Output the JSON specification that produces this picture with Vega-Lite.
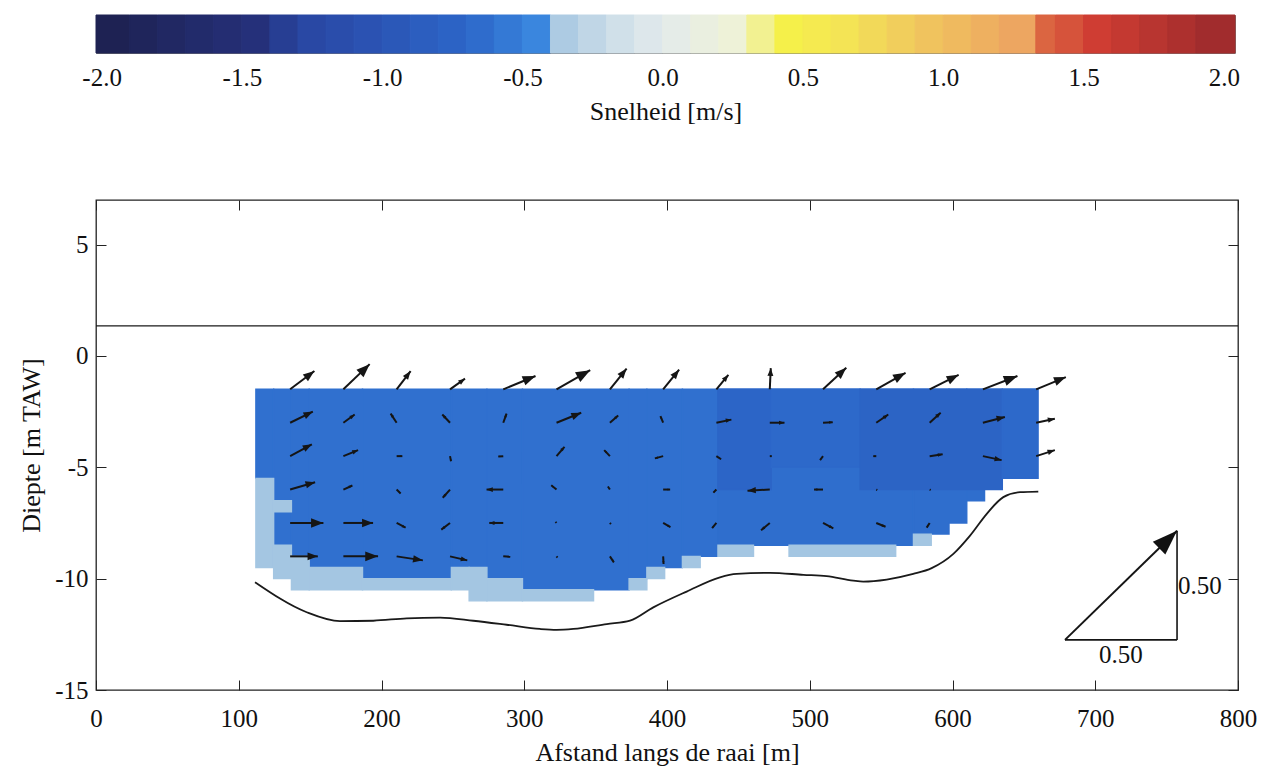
{
  "$schema": "https://vega.github.io/schema/vega-lite/v6.json",
  "background": "white",
  "padding": {"left": 18, "top": 14, "right": 20, "bottom": 8},
  "spacing": 73,
  "config": {
    "font": "Liberation Serif",
    "view": {"stroke": null},
    "axis": {
      "labelFont": "Liberation Serif", "titleFont": "Liberation Serif",
      "labelFontSize": 25, "titleFontSize": 26, "titleFontWeight": "normal",
      "labelColor": "#111", "titleColor": "#111", "tickColor": "#222",
      "grid": false, "labelFlush": false, "labelOverlap": false
    }
  },
  "datasets": {
    "cbar": [
      {"a": -2.02, "b": -1.9, "c": -1.96}, {"a": -1.9, "b": -1.8, "c": -1.85}, {"a": -1.8, "b": -1.7, "c": -1.75},
      {"a": -1.7, "b": -1.6, "c": -1.65}, {"a": -1.6, "b": -1.5, "c": -1.55}, {"a": -1.5, "b": -1.4, "c": -1.45},
      {"a": -1.4, "b": -1.3, "c": -1.35}, {"a": -1.3, "b": -1.2, "c": -1.25}, {"a": -1.2, "b": -1.1, "c": -1.15},
      {"a": -1.1, "b": -1.0, "c": -1.05}, {"a": -1.0, "b": -0.9, "c": -0.95}, {"a": -0.9, "b": -0.8, "c": -0.85},
      {"a": -0.8, "b": -0.7, "c": -0.75}, {"a": -0.7, "b": -0.6, "c": -0.65}, {"a": -0.6, "b": -0.5, "c": -0.55},
      {"a": -0.5, "b": -0.4, "c": -0.45}, {"a": -0.4, "b": -0.3, "c": -0.35}, {"a": -0.3, "b": -0.2, "c": -0.25},
      {"a": -0.2, "b": -0.1, "c": -0.15}, {"a": -0.1, "b": 0.0, "c": -0.05}, {"a": 0.0, "b": 0.1, "c": 0.05},
      {"a": 0.1, "b": 0.2, "c": 0.15}, {"a": 0.2, "b": 0.3, "c": 0.25}, {"a": 0.3, "b": 0.4, "c": 0.35},
      {"a": 0.4, "b": 0.5, "c": 0.45}, {"a": 0.5, "b": 0.6, "c": 0.55}, {"a": 0.6, "b": 0.7, "c": 0.65},
      {"a": 0.7, "b": 0.8, "c": 0.75}, {"a": 0.8, "b": 0.9, "c": 0.85}, {"a": 0.9, "b": 1.0, "c": 0.95},
      {"a": 1.0, "b": 1.1, "c": 1.05}, {"a": 1.1, "b": 1.2, "c": 1.15}, {"a": 1.2, "b": 1.33, "c": 1.26},
      {"a": 1.33, "b": 1.4, "c": 1.37}, {"a": 1.4, "b": 1.5, "c": 1.45}, {"a": 1.5, "b": 1.6, "c": 1.55},
      {"a": 1.6, "b": 1.7, "c": 1.65}, {"a": 1.7, "b": 1.8, "c": 1.75}, {"a": 1.8, "b": 1.9, "c": 1.85},
      {"a": 1.9, "b": 2.04, "c": 1.96}
    ],
    "field": [
      {"x": 112, "xe": 124.45, "y": -1.5, "ye": -5.5, "v": -0.62},
      {"x": 124.45, "xe": 136.9, "y": -1.5, "ye": -8.5, "v": -0.62},
      {"x": 136.9, "xe": 149.35, "y": -1.5, "ye": -9.0, "v": -0.62},
      {"x": 149.35, "xe": 186.7, "y": -1.5, "ye": -9.5, "v": -0.62},
      {"x": 186.7, "xe": 248.95, "y": -1.5, "ye": -10.0, "v": -0.62},
      {"x": 248.95, "xe": 273.85, "y": -1.5, "ye": -9.5, "v": -0.62},
      {"x": 273.85, "xe": 298.75, "y": -1.5, "ye": -10.0, "v": -0.62},
      {"x": 298.75, "xe": 373.45, "y": -1.5, "ye": -10.5, "v": -0.62},
      {"x": 373.45, "xe": 385.9, "y": -1.5, "ye": -10.0, "v": -0.62},
      {"x": 385.9, "xe": 410.8, "y": -1.5, "ye": -9.5, "v": -0.62},
      {"x": 410.8, "xe": 435.7, "y": -1.5, "ye": -9.0, "v": -0.62},
      {"x": 435.7, "xe": 572.65, "y": -1.5, "ye": -8.5, "v": -0.64},
      {"x": 572.65, "xe": 597.55, "y": -1.5, "ye": -8.0, "v": -0.64},
      {"x": 597.55, "xe": 610, "y": -1.5, "ye": -7.5, "v": -0.64},
      {"x": 610, "xe": 622.45, "y": -1.5, "ye": -6.5, "v": -0.64},
      {"x": 622.45, "xe": 659.8, "y": -1.5, "ye": -5.5, "v": -0.63},
      {"x": 435.7, "xe": 473.05, "y": -1.5, "ye": -6.0, "v": -0.72},
      {"x": 473.05, "xe": 535.3, "y": -1.5, "ye": -5.0, "v": -0.68},
      {"x": 535.3, "xe": 634.9, "y": -1.5, "ye": -6.0, "v": -0.74},
      {"x": 634.9, "xe": 659.8, "y": -1.5, "ye": -5.5, "v": -0.68},
      {"x": 112, "xe": 124.45, "y": -5.5, "ye": -9.5, "v": -0.399},
      {"x": 124.45, "xe": 136.9, "y": -6.5, "ye": -7.0, "v": -0.399},
      {"x": 124.45, "xe": 136.9, "y": -8.5, "ye": -10.0, "v": -0.399},
      {"x": 136.9, "xe": 149.35, "y": -9.0, "ye": -10.5, "v": -0.399},
      {"x": 149.35, "xe": 186.7, "y": -9.5, "ye": -10.5, "v": -0.399},
      {"x": 186.7, "xe": 248.95, "y": -10.0, "ye": -10.5, "v": -0.399},
      {"x": 248.95, "xe": 261.4, "y": -9.5, "ye": -10.5, "v": -0.399},
      {"x": 261.4, "xe": 273.85, "y": -9.5, "ye": -11.0, "v": -0.399},
      {"x": 273.85, "xe": 298.75, "y": -10.0, "ye": -11.0, "v": -0.399},
      {"x": 298.75, "xe": 348.55, "y": -10.5, "ye": -11.0, "v": -0.399},
      {"x": 373.45, "xe": 385.9, "y": -10.0, "ye": -10.5, "v": -0.399},
      {"x": 385.9, "xe": 398.35, "y": -9.5, "ye": -10.0, "v": -0.399},
      {"x": 410.8, "xe": 423.25, "y": -9.0, "ye": -9.5, "v": -0.399},
      {"x": 435.7, "xe": 460.6, "y": -8.5, "ye": -9.0, "v": -0.399},
      {"x": 485.5, "xe": 560.2, "y": -8.5, "ye": -9.0, "v": -0.399},
      {"x": 572.65, "xe": 585.1, "y": -8.0, "ye": -8.5, "v": -0.399}
    ],
    "surface": [{"x": 0, "xe": 800, "y": 1.35, "ye": 1.35}],
    "bottom": [
      {"x": 111.4, "y": -10.16}, {"x": 147.6, "y": -11.51}, {"x": 170.9, "y": -11.91}, {"x": 194.3, "y": -11.89},
      {"x": 217.7, "y": -11.78}, {"x": 241.0, "y": -11.75}, {"x": 264.3, "y": -11.89}, {"x": 287.7, "y": -12.07},
      {"x": 311.0, "y": -12.26}, {"x": 322.7, "y": -12.3}, {"x": 334.4, "y": -12.26}, {"x": 357.8, "y": -12.04},
      {"x": 374.1, "y": -11.89}, {"x": 390.4, "y": -11.29}, {"x": 413.8, "y": -10.58}, {"x": 437.1, "y": -9.94},
      {"x": 448.8, "y": -9.79}, {"x": 472.2, "y": -9.74}, {"x": 495.5, "y": -9.83}, {"x": 511.8, "y": -9.89},
      {"x": 530.5, "y": -10.09}, {"x": 537.5, "y": -10.13}, {"x": 553.9, "y": -10.04}, {"x": 572.5, "y": -9.79},
      {"x": 585.4, "y": -9.53}, {"x": 600.6, "y": -8.89}, {"x": 612.3, "y": -8.07}, {"x": 624.0, "y": -7.09},
      {"x": 635.6, "y": -6.34}, {"x": 647.3, "y": -6.12}, {"x": 660.1, "y": -6.09}
    ],
    "arrows": [
      {"x": 136, "y": -1.5, "xe": 153.0, "ye": -0.68, "ang": 53, "spd": 0.136},
      {"x": 173.3, "y": -1.5, "xe": 191.7, "ye": -0.37, "ang": 46, "spd": 0.162},
      {"x": 210.6, "y": -1.5, "xe": 220.4, "ye": -0.68, "ang": 37, "spd": 0.103},
      {"x": 248, "y": -1.5, "xe": 258.5, "ye": -1.02, "ang": 54, "spd": 0.082},
      {"x": 285.3, "y": -1.5, "xe": 307.9, "ye": -0.9, "ang": 68, "spd": 0.156},
      {"x": 322.6, "y": -1.5, "xe": 346.2, "ye": -0.64, "ang": 61, "spd": 0.173},
      {"x": 360, "y": -1.5, "xe": 371.7, "ye": -0.57, "ang": 39, "spd": 0.119},
      {"x": 397.3, "y": -1.5, "xe": 408.5, "ye": -0.62, "ang": 39, "spd": 0.113},
      {"x": 434.6, "y": -1.5, "xe": 443.0, "ye": -0.85, "ang": 40, "spd": 0.084},
      {"x": 472, "y": -1.5, "xe": 472.7, "ye": -0.55, "ang": 3, "spd": 0.094},
      {"x": 509.3, "y": -1.5, "xe": 525.6, "ye": -0.53, "ang": 47, "spd": 0.141},
      {"x": 546.6, "y": -1.5, "xe": 567.1, "ye": -0.76, "ang": 61, "spd": 0.15},
      {"x": 584, "y": -1.5, "xe": 604.3, "ye": -0.85, "ang": 63, "spd": 0.145},
      {"x": 621.3, "y": -1.5, "xe": 645.5, "ye": -0.9, "ang": 69, "spd": 0.165},
      {"x": 658.6, "y": -1.5, "xe": 679.4, "ye": -0.95, "ang": 68, "spd": 0.143},
      {"x": 136, "y": -3, "xe": 151.9, "ye": -2.5, "ang": 64, "spd": 0.113},
      {"x": 173.3, "y": -3, "xe": 181.2, "ye": -2.63, "ang": 54, "spd": 0.063},
      {"x": 210.6, "y": -3, "xe": 206.4, "ye": -2.59, "ang": -34, "spd": 0.048},
      {"x": 248, "y": -3, "xe": 242.6, "ye": -2.63, "ang": -43, "spd": 0.051},
      {"x": 285.3, "y": -3, "xe": 287.6, "ye": -2.59, "ang": 20, "spd": 0.043},
      {"x": 322.6, "y": -3, "xe": 339.9, "ye": -2.55, "ang": 68, "spd": 0.119},
      {"x": 360, "y": -3, "xe": 365.8, "ye": -2.67, "ang": 49, "spd": 0.049},
      {"x": 397.3, "y": -3, "xe": 395.4, "ye": -2.7, "ang": -22, "spd": 0.032},
      {"x": 434.6, "y": -3, "xe": 445.1, "ye": -2.86, "ang": 79, "spd": 0.068},
      {"x": 472, "y": -3, "xe": 482.3, "ye": -3, "ang": 90, "spd": 0.066},
      {"x": 509.3, "y": -3, "xe": 516.1, "ye": -2.98, "ang": 87, "spd": 0.043},
      {"x": 546.6, "y": -3, "xe": 555.0, "ye": -2.63, "ang": 55, "spd": 0.065},
      {"x": 584, "y": -3, "xe": 591.7, "ye": -2.55, "ang": 48, "spd": 0.066},
      {"x": 621.3, "y": -3, "xe": 636.7, "ye": -2.74, "ang": 76, "spd": 0.101},
      {"x": 658.6, "y": -3, "xe": 671.7, "ye": -2.82, "ang": 78, "spd": 0.085},
      {"x": 136, "y": -4.5, "xe": 151.2, "ye": -3.97, "ang": 62, "spd": 0.11},
      {"x": 173.3, "y": -4.5, "xe": 183.6, "ye": -4.23, "ang": 68, "spd": 0.071},
      {"x": 210.6, "y": -4.5, "xe": 214.6, "ye": -4.5, "ang": 90, "spd": 0.025},
      {"x": 248, "y": -4.5, "xe": 248.7, "ye": -4.73, "ang": 169, "spd": 0.023},
      {"x": 285.3, "y": -4.5, "xe": 281.8, "ye": -4.52, "ang": -96, "spd": 0.022},
      {"x": 322.6, "y": -4.5, "xe": 328.2, "ye": -4.08, "ang": 41, "spd": 0.055},
      {"x": 360, "y": -4.5, "xe": 356, "ye": -4.23, "ang": -44, "spd": 0.037},
      {"x": 397.3, "y": -4.5, "xe": 391.5, "ye": -4.6, "ang": -106, "spd": 0.038},
      {"x": 434.6, "y": -4.5, "xe": 437.9, "ye": -4.64, "ang": 123, "spd": 0.025},
      {"x": 472, "y": -4.5, "xe": 473.4, "ye": -4.5, "ang": 90, "spd": 0.009},
      {"x": 509.3, "y": -4.5, "xe": 507.2, "ye": -4.68, "ang": -143, "spd": 0.022},
      {"x": 546.6, "y": -4.5, "xe": 544.5, "ye": -4.5, "ang": -90, "spd": 0.013},
      {"x": 584, "y": -4.5, "xe": 593.1, "ye": -4.42, "ang": 83, "spd": 0.058},
      {"x": 621.3, "y": -4.5, "xe": 634.4, "ye": -4.68, "ang": 102, "spd": 0.085},
      {"x": 658.6, "y": -4.5, "xe": 671.7, "ye": -4.23, "ang": 72, "spd": 0.088},
      {"x": 136, "y": -6, "xe": 153.5, "ye": -5.67, "ang": 74, "spd": 0.116},
      {"x": 173.3, "y": -6, "xe": 179.6, "ye": -5.82, "ang": 66, "spd": 0.044},
      {"x": 210.6, "y": -6, "xe": 213.4, "ye": -6.18, "ang": 135, "spd": 0.025},
      {"x": 248, "y": -6, "xe": 242.9, "ye": -6.37, "ang": -139, "spd": 0.049},
      {"x": 285.3, "y": -6, "xe": 273.6, "ye": -6, "ang": -90, "spd": 0.075},
      {"x": 322.6, "y": -6, "xe": 318.9, "ye": -5.81, "ang": -51, "spd": 0.03},
      {"x": 360, "y": -6, "xe": 358.6, "ye": -5.86, "ang": -34, "spd": 0.016},
      {"x": 397.3, "y": -6, "xe": 402.2, "ye": -6, "ang": 90, "spd": 0.031},
      {"x": 434.6, "y": -6, "xe": 432.5, "ye": -6.14, "ang": -135, "spd": 0.019},
      {"x": 472, "y": -6, "xe": 456.4, "ye": -6.05, "ang": -93, "spd": 0.1},
      {"x": 509.3, "y": -6, "xe": 503, "ye": -6, "ang": -90, "spd": 0.04},
      {"x": 546.6, "y": -6, "xe": 547.3, "ye": -6.02, "ang": 117, "spd": 0.005},
      {"x": 584, "y": -6, "xe": 584.7, "ye": -6.02, "ang": 117, "spd": 0.005},
      {"x": 136, "y": -7.5, "xe": 159.3, "ye": -7.5, "ang": 90, "spd": 0.149},
      {"x": 173.3, "y": -7.5, "xe": 194.1, "ye": -7.5, "ang": 90, "spd": 0.133},
      {"x": 210.6, "y": -7.5, "xe": 216.9, "ye": -7.71, "ang": 118, "spd": 0.045},
      {"x": 248, "y": -7.5, "xe": 241.9, "ye": -7.8, "ang": -128, "spd": 0.049},
      {"x": 285.3, "y": -7.5, "xe": 275.5, "ye": -7.5, "ang": -90, "spd": 0.063},
      {"x": 322.6, "y": -7.5, "xe": 321.9, "ye": -7.45, "ang": -45, "spd": 0.006},
      {"x": 360, "y": -7.5, "xe": 360.7, "ye": -7.55, "ang": 135, "spd": 0.006},
      {"x": 397.3, "y": -7.5, "xe": 402.4, "ye": -7.69, "ang": 121, "spd": 0.038},
      {"x": 434.6, "y": -7.5, "xe": 431.6, "ye": -7.73, "ang": -139, "spd": 0.029},
      {"x": 472, "y": -7.5, "xe": 465.9, "ye": -7.83, "ang": -130, "spd": 0.051},
      {"x": 509.3, "y": -7.5, "xe": 516.5, "ye": -7.74, "ang": 117, "spd": 0.052},
      {"x": 546.6, "y": -7.5, "xe": 553.1, "ye": -7.67, "ang": 112, "spd": 0.045},
      {"x": 584, "y": -7.5, "xe": 581.9, "ye": -7.71, "ang": -147, "spd": 0.025},
      {"x": 136, "y": -9, "xe": 155.4, "ye": -9, "ang": 90, "spd": 0.124},
      {"x": 173.3, "y": -9, "xe": 197.6, "ye": -9, "ang": 90, "spd": 0.155},
      {"x": 210.6, "y": -9, "xe": 229, "ye": -9.18, "ang": 99, "spd": 0.119},
      {"x": 248, "y": -9, "xe": 260.1, "ye": -9.18, "ang": 103, "spd": 0.079},
      {"x": 285.3, "y": -9, "xe": 290.2, "ye": -9.02, "ang": 94, "spd": 0.031},
      {"x": 322.6, "y": -9, "xe": 323.3, "ye": -9.05, "ang": 135, "spd": 0.006},
      {"x": 360, "y": -9, "xe": 362.8, "ye": -9.27, "ang": 146, "spd": 0.032},
      {"x": 397.3, "y": -9, "xe": 397.6, "ye": -9.34, "ang": 176, "spd": 0.034}
    ],
    "legs": [
      {"x": 678.8, "y": -12.75, "xe": 757.3, "ye": -12.75},
      {"x": 757.3, "y": -12.75, "xe": 757.3, "ye": -7.85}
    ],
    "refarrow": [{"x": 678.8, "y": -12.75, "xe": 757.3, "ye": -7.85, "ang": 46}],
    "reflabelH": [{"x": 718, "y": -13.45, "t": "0.50"}],
    "reflabelV": [{"x": 757.3, "y": -10.35, "t": "0.50"}]
  },
  "vconcat": [
    {
      "width": 1139,
      "height": 38,
      "view": {"stroke": "#777", "strokeWidth": 1},
      "data": {"name": "cbar"},
      "mark": {"type": "rect", "strokeWidth": 1},
      "encoding": {
        "x": {
          "field": "a", "type": "quantitative",
          "scale": {"domain": [-2.02, 2.04], "nice": false, "zero": false},
          "axis": {
            "values": [-2, -1.5, -1, -0.5, 0, 0.5, 1, 1.5, 2],
            "labelExpr": "replace(format(datum.value, '.1f'), '−', '-')",
            "title": "Snelheid [m/s]", "domain": false, "ticks": false,
            "labelPadding": 12, "titlePadding": 8, "labelFontSize": 25, "titleFontSize": 26
          }
        },
        "x2": {"field": "b"},
        "fill": {
          "field": "c", "type": "quantitative", "legend": null,
          "scale": {
            "type": "linear", "nice": false, "zero": false, "clamp": true, "interpolate": "rgb",
            "domain": [-2.0, -1.45, -1.3, -1.0, -0.7, -0.45, -0.4, -0.399, -0.2, 0, 0.25, 0.45, 0.65, 0.9, 1.32, 1.33, 1.55, 2.0],
            "range": ["#1d2150", "#25307a", "#2845a0", "#2b55b5", "#2c66c8", "#3a86de", "#3f90e6", "#a4c6e2", "#c9dce8", "#e3ebec", "#eef2d8", "#f5f04a", "#f4e455", "#f0c85e", "#eca062", "#de6e44", "#cf3d33", "#9c2a2c"]
          }
        },
        "stroke": {
          "field": "c", "type": "quantitative", "legend": null,
          "scale": {
            "type": "linear", "nice": false, "zero": false, "clamp": true, "interpolate": "rgb",
            "domain": [-2.0, -1.45, -1.3, -1.0, -0.7, -0.45, -0.4, -0.399, -0.2, 0, 0.25, 0.45, 0.65, 0.9, 1.32, 1.33, 1.55, 2.0],
            "range": ["#1d2150", "#25307a", "#2845a0", "#2b55b5", "#2c66c8", "#3a86de", "#3f90e6", "#a4c6e2", "#c9dce8", "#e3ebec", "#eef2d8", "#f5f04a", "#f4e455", "#f0c85e", "#eca062", "#de6e44", "#cf3d33", "#9c2a2c"]
          }
        }
      }
    },
    {
      "width": 1142,
      "height": 490,
      "view": {"stroke": "#222", "strokeWidth": 1.3},
      "resolve": {"axis": {"x": "independent", "y": "independent"}},
      "layer": [
        {
          "data": {"name": "field"},
          "mark": {"type": "rect", "strokeWidth": 1.4},
          "encoding": {
            "x": {"field": "x", "type": "quantitative", "scale": {"domain": [0, 800], "nice": false, "zero": false},
              "axis": {"orient": "bottom", "values": [0, 100, 200, 300, 400, 500, 600, 700, 800], "tickSize": -10, "labelPadding": 26, "domain": false, "title": "Afstand langs de raai [m]", "titlePadding": 8}},
            "x2": {"field": "xe"},
            "y": {"field": "y", "type": "quantitative", "scale": {"domain": [-15, 7], "nice": false, "zero": false},
              "axis": {"orient": "left", "values": [-15, -10, -5, 0, 5], "tickSize": -10, "labelPadding": 18, "domain": false, "title": "Diepte [m TAW]", "titlePadding": 10, "labelExpr": "replace(datum.label, '−', '-')"}},
            "y2": {"field": "ye"},
            "fill": {
              "field": "v", "type": "quantitative", "legend": null,
              "scale": {
                "type": "linear", "nice": false, "zero": false, "clamp": true, "interpolate": "rgb",
                "domain": [-2.0, -1.45, -1.3, -1.0, -0.7, -0.45, -0.4, -0.399, -0.2, 0, 0.25, 0.45, 0.65, 0.9, 1.32, 1.33, 1.55, 2.0],
                "range": ["#1d2150", "#25307a", "#2845a0", "#2b55b5", "#2c66c8", "#3a86de", "#3f90e6", "#a4c6e2", "#c9dce8", "#e3ebec", "#eef2d8", "#f5f04a", "#f4e455", "#f0c85e", "#eca062", "#de6e44", "#cf3d33", "#9c2a2c"]
              }
            },
            "stroke": {
              "field": "v", "type": "quantitative", "legend": null,
              "scale": {
                "type": "linear", "nice": false, "zero": false, "clamp": true, "interpolate": "rgb",
                "domain": [-2.0, -1.45, -1.3, -1.0, -0.7, -0.45, -0.4, -0.399, -0.2, 0, 0.25, 0.45, 0.65, 0.9, 1.32, 1.33, 1.55, 2.0],
                "range": ["#1d2150", "#25307a", "#2845a0", "#2b55b5", "#2c66c8", "#3a86de", "#3f90e6", "#a4c6e2", "#c9dce8", "#e3ebec", "#eef2d8", "#f5f04a", "#f4e455", "#f0c85e", "#eca062", "#de6e44", "#cf3d33", "#9c2a2c"]
              }
            }
          }
        },
        {
          "data": {"name": "surface"},
          "mark": {"type": "rule", "color": "#1a1a1a", "strokeWidth": 1.3},
          "encoding": {
            "x": {"field": "x", "type": "quantitative", "scale": {"domain": [0, 800], "nice": false, "zero": false},
              "axis": {"orient": "top", "values": [0, 100, 200, 300, 400, 500, 600, 700, 800], "tickSize": -10, "labels": false, "domain": false, "title": null}},
            "x2": {"field": "xe"},
            "y": {"field": "y", "type": "quantitative", "scale": {"domain": [-15, 7], "nice": false, "zero": false},
              "axis": {"orient": "right", "values": [-15, -10, -5, 0, 5], "tickSize": -10, "labels": false, "domain": false, "title": null}},
            "y2": {"field": "ye"}
          }
        },
        {
          "data": {"name": "bottom"},
          "mark": {"type": "line", "color": "#1a1a1a", "strokeWidth": 1.8, "interpolate": "monotone"},
          "encoding": {
            "x": {"field": "x", "type": "quantitative", "scale": {"domain": [0, 800], "nice": false, "zero": false}, "axis": null},
            "y": {"field": "y", "type": "quantitative", "scale": {"domain": [-15, 7], "nice": false, "zero": false}, "axis": null}
          }
        },
        {
          "data": {"name": "arrows"},
          "mark": {"type": "rule", "color": "#151515", "strokeWidth": 2},
          "encoding": {
            "x": {"field": "x", "type": "quantitative", "scale": {"domain": [0, 800], "nice": false, "zero": false}, "axis": null},
            "x2": {"field": "xe"},
            "y": {"field": "y", "type": "quantitative", "scale": {"domain": [-15, 7], "nice": false, "zero": false}, "axis": null},
            "y2": {"field": "ye"}
          }
        },
        {
          "data": {"name": "arrows"},
          "mark": {"type": "point", "shape": "M0,0L-0.38,1L0.38,1Z", "filled": true, "color": "#151515", "opacity": 1, "strokeWidth": 0},
          "encoding": {
            "x": {"field": "xe", "type": "quantitative", "scale": {"domain": [0, 800], "nice": false, "zero": false}, "axis": null},
            "y": {"field": "ye", "type": "quantitative", "scale": {"domain": [-15, 7], "nice": false, "zero": false}, "axis": null},
            "angle": {"field": "ang", "type": "quantitative", "scale": null},
            "size": {"field": "spd", "type": "quantitative", "legend": null, "scale": {"type": "pow", "exponent": 2, "domain": [0, 0.2], "range": [0, 1100]}}
          }
        },
        {
          "data": {"name": "legs"},
          "mark": {"type": "rule", "color": "#151515", "strokeWidth": 1.6},
          "encoding": {
            "x": {"field": "x", "type": "quantitative", "scale": {"domain": [0, 800], "nice": false, "zero": false}, "axis": null},
            "x2": {"field": "xe"},
            "y": {"field": "y", "type": "quantitative", "scale": {"domain": [-15, 7], "nice": false, "zero": false}, "axis": null},
            "y2": {"field": "ye"}
          }
        },
        {
          "data": {"name": "refarrow"},
          "mark": {"type": "rule", "color": "#151515", "strokeWidth": 2},
          "encoding": {
            "x": {"field": "x", "type": "quantitative", "scale": {"domain": [0, 800], "nice": false, "zero": false}, "axis": null},
            "x2": {"field": "xe"},
            "y": {"field": "y", "type": "quantitative", "scale": {"domain": [-15, 7], "nice": false, "zero": false}, "axis": null},
            "y2": {"field": "ye"}
          }
        },
        {
          "data": {"name": "refarrow"},
          "mark": {"type": "point", "shape": "M0,0L-0.36,1L0.36,1Z", "filled": true, "color": "#111", "opacity": 1, "strokeWidth": 0, "size": 2500},
          "encoding": {
            "x": {"field": "xe", "type": "quantitative", "scale": {"domain": [0, 800], "nice": false, "zero": false}, "axis": null},
            "y": {"field": "ye", "type": "quantitative", "scale": {"domain": [-15, 7], "nice": false, "zero": false}, "axis": null},
            "angle": {"field": "ang", "type": "quantitative", "scale": null}
          }
        },
        {
          "data": {"name": "reflabelH"},
          "mark": {"type": "text", "font": "Liberation Serif", "fontSize": 25, "align": "center", "baseline": "middle", "color": "#111"},
          "encoding": {
            "x": {"field": "x", "type": "quantitative", "scale": {"domain": [0, 800], "nice": false, "zero": false}, "axis": null},
            "y": {"field": "y", "type": "quantitative", "scale": {"domain": [-15, 7], "nice": false, "zero": false}, "axis": null},
            "text": {"field": "t"}
          }
        },
        {
          "data": {"name": "reflabelV"},
          "mark": {"type": "text", "font": "Liberation Serif", "fontSize": 25, "align": "left", "baseline": "middle", "dx": 1, "color": "#111"},
          "encoding": {
            "x": {"field": "x", "type": "quantitative", "scale": {"domain": [0, 800], "nice": false, "zero": false}, "axis": null},
            "y": {"field": "y", "type": "quantitative", "scale": {"domain": [-15, 7], "nice": false, "zero": false}, "axis": null},
            "text": {"field": "t"}
          }
        }
      ]
    }
  ]
}
